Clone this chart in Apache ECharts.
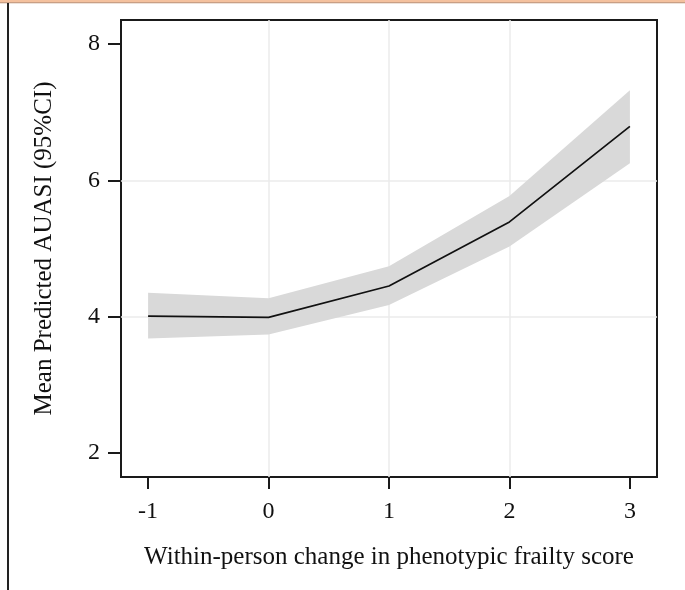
<!DOCTYPE html>
<html>
<head>
<meta charset="utf-8">
<script src="https://cdn.jsdelivr.net/npm/echarts@6/dist/echarts.min.js"></script>
<style>
html,body{margin:0;padding:0;background:#fff;}
#chart{width:685px;height:590px;}
</style>
</head>
<body>
<div id="chart"></div>
<script>
// Data
var xValues = [-1, 0, 1, 2, 3];
var meanValues = [4.01, 3.99, 4.45, 5.39, 6.79];
var lowerValues = [3.68, 3.74, 4.17, 5.03, 6.25];
var upperValues = [4.35, 4.27, 4.74, 5.77, 7.32];
var xTickLabels = [-1, 0, 1, 2, 3];
var yTickLabels = [2, 4, 6, 8];

var chart = echarts.init(document.getElementById('chart'), null, {renderer: 'canvas'});

var bandData = xValues.map(function (x, i) { return [x, lowerValues[i], upperValues[i]]; });
var meanData = xValues.map(function (x, i) { return [x, meanValues[i]]; });

var font = '"Liberation Serif", "Times New Roman", serif';
var textColor = '#111111';

function renderBand(params, api) {
  if (params.dataIndex !== 0) { return; }
  var upperPts = [];
  var lowerPts = [];
  for (var i = 0; i < bandData.length; i++) {
    upperPts.push(api.coord([bandData[i][0], bandData[i][2]]));
    lowerPts.push(api.coord([bandData[i][0], bandData[i][1]]));
  }
  var pts = upperPts.concat(lowerPts.reverse());
  return {
    type: 'polygon',
    shape: {points: pts},
    style: {fill: '#d9d9d9', stroke: null}
  };
}

chart.setOption({
  animation: false,
  backgroundColor: '#ffffff',
  graphic: [
    {type: 'rect', shape: {x: 0, y: 0, width: 685, height: 2.5}, style: {fill: '#f4c19e'}, z: 100},
    {type: 'rect', shape: {x: 0, y: 2.2, width: 685, height: 1}, style: {fill: '#b98a6c'}, z: 100},
    {type: 'rect', shape: {x: 7, y: 3, width: 2, height: 587}, style: {fill: '#222222'}, z: 100}
  ],
  grid: {
    left: 121, right: 28, top: 20, bottom: 113,
    show: true, borderColor: '#1a1a1a', borderWidth: 2,
    containLabel: false
  },
  xAxis: {
    type: 'value',
    min: -1.225, max: 3.225,
    minInterval: 1, maxInterval: 1,
    name: 'Within-person change in phenotypic frailty score',
    nameLocation: 'middle',
    nameGap: 68,
    nameTextStyle: {fontFamily: font, fontSize: 25, color: textColor},
    axisLine: {show: false, onZero: false},
    axisTick: {show: true, length: 12, customValues: xTickLabels, lineStyle: {color: '#1a1a1a', width: 2}},
    axisLabel: {
      customValues: xTickLabels,
      margin: 23,
      fontFamily: font, fontSize: 24, color: textColor
    },
    splitLine: {show: true, showMinLine: false, showMaxLine: false, lineStyle: {color: '#ebebeb', width: 1.5}}
  },
  yAxis: {
    type: 'value',
    min: 1.65, max: 8.35,
    minInterval: 2, maxInterval: 2,
    name: 'Mean Predicted AUASI (95%CI)',
    nameLocation: 'middle',
    nameRotate: 90,
    nameGap: 64,
    nameTextStyle: {fontFamily: font, fontSize: 25, color: textColor},
    axisLine: {show: false, onZero: false},
    axisTick: {show: true, length: 13, customValues: yTickLabels, lineStyle: {color: '#1a1a1a', width: 2}},
    axisLabel: {
      customValues: yTickLabels,
      margin: 21,
      fontFamily: font, fontSize: 24, color: textColor
    },
    splitLine: {show: true, showMinLine: false, showMaxLine: false, lineStyle: {color: '#ebebeb', width: 1.5}}
  },
  series: [
    {
      name: 'band', type: 'custom', data: bandData,
      encode: {x: 0, y: [1, 2]},
      renderItem: renderBand, silent: true, z: 2, clip: true
    },
    {
      name: 'mean', type: 'line', data: meanData,
      symbol: 'none', lineStyle: {color: '#111111', width: 1.7}, silent: true, z: 3
    }
  ]
});
</script>
</body>
</html>
